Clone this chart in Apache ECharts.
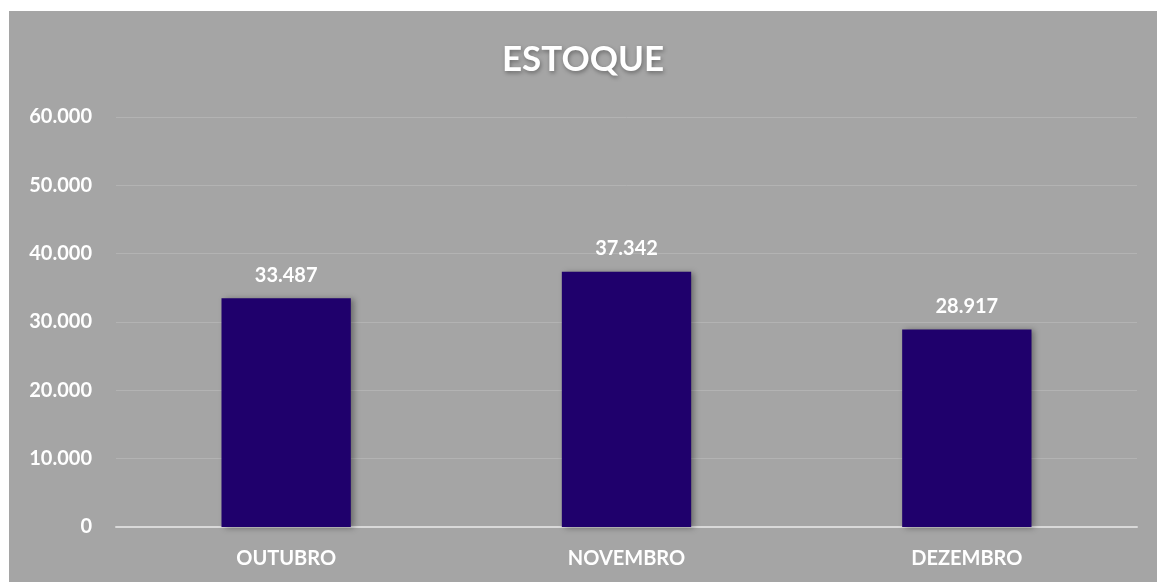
<!DOCTYPE html>
<html><head><meta charset="utf-8">
<script src="https://cdn.jsdelivr.net/npm/echarts@6/dist/echarts.min.js"></script>
<style>html,body{margin:0;padding:0;background:#fff;}#c{position:absolute;left:9px;top:11px;width:1148px;height:571px;background:#a5a5a5;}</style>
</head><body><div id="c"></div>
<script>
const categories = ["OUTUBRO", "NOVEMBRO", "DEZEMBRO"];
const values = [33487, 37342, 28917];
const yTicks = [0, 10000, 20000, 30000, 40000, 50000, 60000];
const title = "ESTOQUE";

const fmt = v => v === 0 ? "0" : v.toLocaleString("de-DE");
const FONT = "Lato, 'Open Sans', sans-serif";
const chart = echarts.init(document.getElementById('c'), null, {renderer: 'canvas'});
chart.setOption({
  backgroundColor: '#a5a5a5',
  animation: false,
  title: {
    text: title, left: 'center', top: 26,
    textStyle: {color: '#fff', fontSize: 35, fontWeight: 'bold', fontFamily: FONT,
      textShadowColor: 'rgba(0,0,0,0.35)', textShadowBlur: 4, textShadowOffsetX: 1, textShadowOffsetY: 2}
  },
  grid: {left: 107, right: 20, top: 106, bottom: 55, containLabel: false},
  xAxis: {
    type: 'category', data: categories,
    axisLine: {lineStyle: {color: '#d9d9d9', width: 2}},
    axisTick: {show: false},
    axisLabel: {color: '#fff', fontSize: 20, fontWeight: 'bold', fontFamily: FONT, margin: 22}
  },
  yAxis: {
    type: 'value', min: yTicks[0], max: yTicks[yTicks.length - 1], interval: 10000,
    axisLine: {show: false}, axisTick: {show: false},
    splitLine: {lineStyle: {color: '#b3b3b3', width: 1}},
    axisLabel: {color: '#fff', fontSize: 20, fontWeight: 'bold', fontFamily: FONT, margin: 24, formatter: fmt}
  },
  series: [{
    type: 'bar', data: values, barWidth: '38%',
    itemStyle: {color: '#1f006c', shadowColor: 'rgba(0,0,0,0.35)', shadowBlur: 6, shadowOffsetX: 3, shadowOffsetY: 1},
    label: {show: true, position: 'top', distance: 13, color: '#fff', fontSize: 20, fontWeight: 'bold', fontFamily: FONT, formatter: p => fmt(p.value)}
  }]
});
</script></body></html>
